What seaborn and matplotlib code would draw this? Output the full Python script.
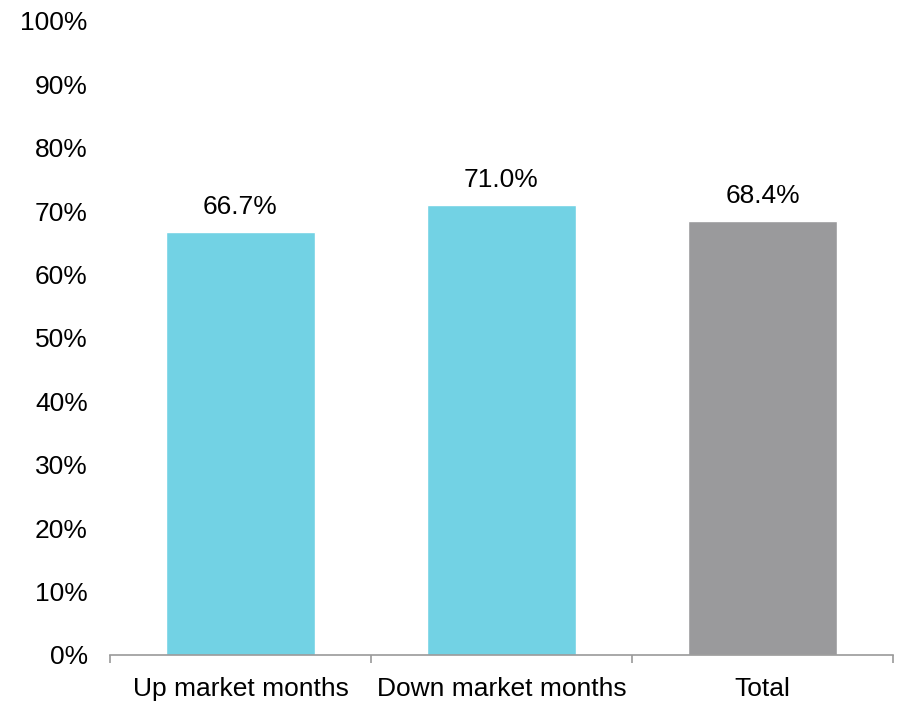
import matplotlib
matplotlib.use("Agg")
import matplotlib.pyplot as plt
from matplotlib.ticker import FixedLocator, PercentFormatter
import seaborn as sns
import pandas as pd

categories = ["Up market months", "Down market months", "Total"]
values = [66.7, 71.0, 68.4]
bar_colors = ["#72D2E4", "#72D2E4", "#9A9A9C"]
y_ticks = [0, 10, 20, 30, 40, 50, 60, 70, 80, 90, 100]

sns.set_theme(style="white")
plt.rcParams["font.family"] = ["Liberation Sans", "DejaVu Sans"]

df = pd.DataFrame({"category": categories, "value": values})

fig = plt.figure(figsize=(8.97, 7.01), dpi=100)
ax = fig.add_axes([0.1226, 0.0658, 0.8729, 0.9045])

sns.barplot(data=df, x="category", y="value", hue="category",
            palette=bar_colors, width=0.57, saturation=1, legend=False, ax=ax)

ax.set_ylim(0, 100)
ax.set_xlim(-0.5, 2.5)
ax.yaxis.set_major_locator(FixedLocator(y_ticks))
ax.yaxis.set_major_formatter(PercentFormatter(decimals=0))
ax.set_xlabel("")
ax.set_ylabel("")

for side in ["top", "right", "left"]:
    ax.spines[side].set_visible(False)
ax.spines["bottom"].set_color("#9A9A9A")
ax.spines["bottom"].set_linewidth(1.2)

ax.tick_params(axis="y", length=0, pad=16, labelsize=19, labelcolor="black")
ax.tick_params(axis="x", which="major", length=0, pad=16, labelsize=19,
               labelcolor="black")
ax.xaxis.set_minor_locator(FixedLocator([-0.5, 0.5, 1.5, 2.5]))
ax.tick_params(axis="x", which="minor", bottom=True, length=6, width=1.2,
               color="#9A9A9A", direction="out")

for i, v in enumerate(values):
    ax.annotate(f"{v:.1f}%", xy=(i, v), xytext=(0, 13),
                textcoords="offset points", ha="center", va="baseline",
                fontsize=19, color="black")

fig.savefig("out.png", dpi=100)
